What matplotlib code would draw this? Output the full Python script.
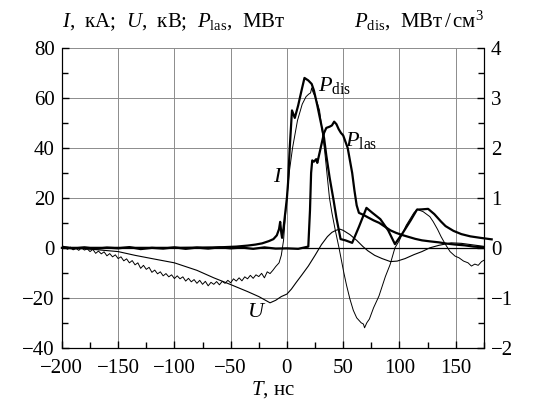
import matplotlib
matplotlib.use("Agg")
import matplotlib.pyplot as plt
from matplotlib.ticker import MultipleLocator

# --- fonts: Times-like serif, italic symbols via mathtext ---
plt.rcParams['font.family'] = ['Liberation Serif', 'DejaVu Serif']
plt.rcParams['mathtext.fontset'] = 'custom'
plt.rcParams['mathtext.rm'] = 'Liberation Serif'
plt.rcParams['mathtext.it'] = 'Liberation Serif:italic'
plt.rcParams['axes.unicode_minus'] = True

# --- data (T in ns) ---
# discharge current I, kA (thin, noisy)
t_i = [-200, -197.5, -195, -192.5, -190, -187.5, -185, -182.5, -180, -177.5, -175,
       -172.5, -170, -167.5, -165, -162.5, -160, -157.5, -155, -152.5, -150, -147.5,
       -145, -142.5, -140, -137.5, -135, -132.5, -130, -127.5, -125, -122.5, -120,
       -117.5, -115, -112.5, -110, -107.5, -105, -102.5, -100, -97.5, -95, -92.5, -90,
       -87.5, -85, -82.5, -80, -77.5, -75, -72.5, -70, -67.5, -65, -62.5, -60, -57.5,
       -55, -52.5, -50, -47.5, -45, -42.5, -40, -37.5, -35, -32.5, -30, -27.5, -25,
       -22.5, -20, -17.5, -15, -12.5, -10, -7, -5, -3,
       -1.5, 0, 2.3, 5, 9.4, 13.6, 17, 19.3, 21, 22, 23, 25, 27, 29, 31, 33.5, 35.5,
       37.8, 40, 43, 46.3, 50.6, 53, 56, 59, 62, 66, 68, 69, 71, 73.3, 77, 81.8, 87.5,
       91.7, 96, 100, 106, 112.8, 116, 118, 121, 124, 127, 130, 134, 137, 141, 145,
       149.4, 153, 157, 161, 164, 167, 170, 173, 175]
cur_i = [1.0, 0.2, -0.6, 0.3, -0.8, -0.2, -1.0, 0.1, -0.9, -0.4, -1.5,
         -0.6, -2.2, -1.3, -2.4, -1.6, -3.2, -2.3, -3.6, -2.8, -4.3, -3.6,
         -5.2, -4.4, -6.0, -5.1, -6.8, -6.0, -8.2, -7.0, -8.6, -7.8, -9.8,
         -8.9, -10.4, -9.6, -11.2, -10.3, -11.6, -10.8, -12.3, -11.2, -12.4, -11.6, -13.3,
         -12.2, -13.6, -12.7, -14.2, -13.0, -14.6, -13.4, -15.2, -13.8, -14.6, -13.5, -14.8, -13.4,
         -14.2, -13.0, -14.0, -12.4, -13.3, -12.0, -13.2, -11.6, -12.4, -11.0, -12.2, -10.8, -11.5,
         -10.2, -12.0, -9.6, -10.3, -9.0, -7.5, -6, -3, 3,
         12, 20, 31, 40, 51, 57.5, 60.5, 61.5, 62, 64, 62.5, 60.5, 58, 55, 48, 39, 30,
         20, 14, 7, 0, -10, -15, -20.5, -25, -28, -30, -30.5, -32, -30, -28.5, -24, -19.3, -11.5,
         -6.7, 0, 3, 9, 14, 15.5, 15, 14.5, 13.5, 12.5, 10.5, 7.3, 4.5, 1.3, -1.5,
         -3.3, -4, -5.3, -6, -7.3, -6.5, -7, -5.5, -5]

# voltage U, kV (thin, smooth)
t_u = [-200, -185, -170, -150, -135, -120, -100, -80, -65, -50, -35, -25, -15, -10,
       -5, 0, 4, 8, 13, 19, 25, 30.7, 36, 40, 43.5, 47, 50, 56, 62, 67.6, 72, 78,
       84.6, 92, 98, 105, 113, 120, 127, 135, 146, 155, 165, 175]
volt_u = [0.5, -0.3, -0.7, -1.5, -3, -4.3, -6, -9, -12, -14.7, -17.5, -19.5, -22, -21,
          -19.5, -18.5, -16.5, -14, -11, -7.3, -3, 1.3, 4.5, 6.2, 7, 7.5, 7, 5.3, 3, 0.5, -1.2, -3,
          -4.3, -5.5, -5.3, -4.3, -2.7, -1.5, 0, 1, 2, 1.8, 1.2, 0.6]

# laser power P_las, MW (thick)
t_las = [-200, -190, -180, -170, -160, -150, -140, -130, -120, -110, -100, -90, -80,
         -70, -60, -50, -40, -30, -20, -10, 0, 10, 19, 20.5, 21.5, 22.5, 24, 26, 27,
         29, 31, 33, 35, 38, 40, 42, 44, 46, 48, 50, 52, 54, 56, 58, 60, 62, 64, 68,
         72, 77, 82, 87, 92, 97, 102, 108, 114, 120, 127, 135, 142, 150, 158, 166, 175]
p_las = [0.4, -0.3, 0.2, -0.4, 0.1, -0.2, 0.3, -0.5, 0, -0.3, 0.2, -0.4, 0.1,
         -0.3, 0.2, -0.2, 0.1, -0.4, 0.2, -0.3, -0.2, -0.4, 0.5, 15, 30, 35, 34.5, 35.5, 34,
         38, 42, 46, 48, 48.5, 49, 50.5, 49.5, 47.5, 46, 45, 42.5, 40, 35, 30, 23, 17, 14, 13.2,
         12.2, 11, 10, 8.5, 7, 6, 5.2, 4.4, 3.6, 3, 2.6, 2.2, 1.7, 1.3, 1, 0.5, 0.2]

# discharge power density P_dis, MW/cm^3 (thick, right axis)
t_dis = [-200, -100, -60, -45, -35, -28, -22, -16, -12, -9, -7, -6, -5, -4.3, -3,
         -1.5, 0, 1, 2.5, 4.5, 7, 10, 13, 15.6, 19, 22, 24, 27, 29.3, 33, 35, 38,
         41.5, 44, 47.7, 52, 58, 64, 70.7, 76, 83, 90, 96, 103, 110, 115.6, 120, 125.5,
         131, 137, 141, 148, 155, 163, 172, 182]
p_dis = [0, 0, 0.01, 0.025, 0.045, 0.065, 0.09, 0.135, 0.175, 0.25, 0.375, 0.52, 0.3, 0.2, 0.4,
         0.7, 1.0, 1.3, 2.0, 2.75, 2.6, 2.85, 3.15, 3.4, 3.35, 3.28, 3.15, 2.85, 2.6, 2.2, 1.85, 1.4,
         0.95, 0.6, 0.175, 0.15, 0.1, 0.42, 0.8, 0.7, 0.575, 0.35, 0.075, 0.3, 0.55, 0.765, 0.77, 0.78,
         0.675, 0.525, 0.435, 0.34, 0.275, 0.23, 0.2, 0.17]

fig = plt.figure(figsize=(5.43, 4.03), dpi=100)
ax = fig.add_axes([0.114, 0.137, 0.777, 0.744])
ax2 = ax.twinx()

ax.grid(True, which='major', color='#8c8c8c', linewidth=0.7)
ax.axhline(0, color='black', linewidth=0.9, zorder=2)

ax.plot(t_u, volt_u, color='black', linewidth=0.8, zorder=3)
ax.plot(t_i, cur_i, color='black', linewidth=0.7, zorder=3)
ax.plot(t_las, p_las, color='black', linewidth=1.6, zorder=3)
ax2.plot(t_dis, p_dis, color='black', linewidth=1.6, clip_on=False)

ax.set_xlim(-200, 175)
ax.set_ylim(-40, 80)
ax2.set_ylim(-2, 4)

ax.xaxis.set_major_locator(MultipleLocator(50))
ax.xaxis.set_minor_locator(MultipleLocator(25))
ax.yaxis.set_major_locator(MultipleLocator(20))
ax.yaxis.set_minor_locator(MultipleLocator(10))
ax2.yaxis.set_major_locator(MultipleLocator(1))
ax2.yaxis.set_minor_locator(MultipleLocator(0.5))

for a in (ax, ax2):
    a.spines['top'].set_visible(False)
    a.tick_params(which='both', direction='in', labelsize=15, width=1.0)
    a.tick_params(which='major', length=5)
    a.tick_params(which='minor', length=4)
ax.tick_params(axis='y', pad=5)
ax.tick_params(axis='x', pad=8)
ax2.tick_params(axis='y', pad=5)

# curve labels
ax.text(28, 65, r'$P_{\rm dis}$', fontsize=16, va='center', ha='left')
ax.text(52, 43, r'$P_{\rm las}$', fontsize=16, va='center', ha='left')
ax.text(-3, 28, r'$I$', fontsize=16, va='center', ha='right')
ax.text(-27, -26, r'$U$', fontsize=16, va='center', ha='center')

# axis titles
ax.text(0.0, 1.05, r'$I$,  кА;  $U$,  кВ;  $P_{\rm las}$,  МВт', transform=ax.transAxes,
        fontsize=15, ha='left', va='bottom')
ax.text(1.0, 1.05, r'$P_{\rm dis}$,  МВт$\,/\,$см$^3$', transform=ax.transAxes,
        fontsize=15, ha='right', va='bottom')
ax.set_xlabel(r'$T$, нс', fontsize=15, labelpad=1)

fig.savefig('out.png', dpi=100)
